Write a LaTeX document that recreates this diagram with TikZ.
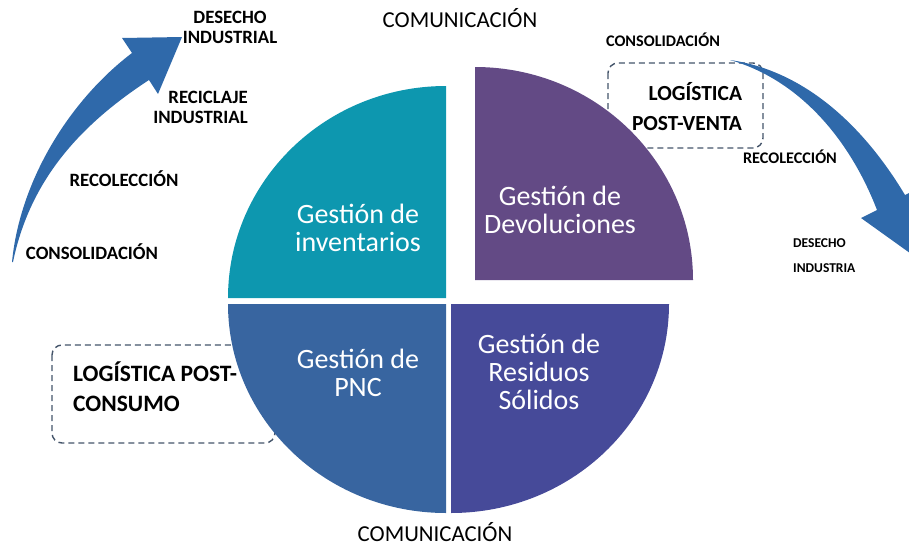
\documentclass[tikz,border=0pt]{standalone}
\usepackage{fontspec}
\setmainfont{Carlito}
\usepackage{xcolor}
\definecolor{ColBlack}{RGB}{0,0,0}
\definecolor{ColTeal}{RGB}{13,151,175}
\definecolor{ColPurple}{RGB}{99,74,133}
\definecolor{ColBlue}{RGB}{56,101,160}
\definecolor{ColIndigo}{RGB}{70,74,153}
\definecolor{ColArrow}{RGB}{47,105,170}
\definecolor{ColSlate}{RGB}{68,84,106}
\usepackage{tikz}
\tikzstyle{Area}=[white,align=center,inner sep=0pt,
    font=\fontsize{28}{28}\selectfont]
\tikzstyle{Stage}=[ColBlack!100,align=center,inner sep=0pt,
    font=\bfseries\fontsize{18.8}{20}\selectfont]
\tikzstyle{SmallStage}=[ColBlack!100,inner sep=0pt,
    font=\bfseries\fontsize{16.2}{18}\selectfont]
\tikzstyle{BoxText}=[ColBlack!100,inner sep=0pt,
    font=\bfseries\fontsize{21.5}{30}\selectfont]
\tikzstyle{Comm}=[ColBlack!100,inner sep=0pt,
    font=\fontsize{22.8}{24}\selectfont]
\tikzstyle{DashBox}=[ColSlate,draw,line width=1.4pt,
    dash pattern=on 6pt off 4pt,rounded corners=10pt]
\tikzstyle{Flow}=[ColArrow,fill]

\begin{document}
\begin{tikzpicture}[x=1pt,y=-1pt]
        \useasboundingbox(0,0)rectangle(909,546);
        \clip(0,0)rectangle(909,546);
        % dashed frames
        \draw[DashBox](608,63)rectangle(763,148);
        \draw[DashBox](52,345)rectangle(275,443);
        % curved arrows
        \fill[Flow](12,262)..controls(20,180)and(70,100)..(132,53)
            --(122,38)--(182,37)--(158,94)--(149,80)
            ..controls(80,125)and(30,180)..(13,262)--cycle;
        \fill[Flow](730,60)..controls(800,70)and(860,120)..(905,195)
            --(921,187)--(928,266)--(861,218)--(877,210)
            ..controls(850,140)and(800,80)..(730,60)--cycle;
        % quadrants
        \fill[ColTeal](446,298)--(228,298)
            arc[start angle=180,end angle=270,x radius=218,y radius=212]--cycle;
        \fill[ColPurple](475,280)--(475,67)
            arc[start angle=270,end angle=360,x radius=218,y radius=213]--cycle;
        \fill[ColBlue](446,304)--(446,513)
            arc[start angle=90,end angle=180,x radius=218,y radius=209]--cycle;
        \fill[ColIndigo](451,304)--(669,304)
            arc[start angle=0,end angle=90,x radius=218,y radius=209]--cycle;
        \node[Area](GI)at(358,228){Gestión de\\inventarios};
        \node[Area](GD)at(560,210){Gestión de\\Devoluciones};
        \node[Area](GP)at(358,373){Gestión de\\PNC};
        \node[Area](GR)at(539,372){Gestión de\\Residuos\\Sólidos};
        \node[Comm](CT)at(460,18){COMUNICACIÓN};
        \node[Comm](CB)at(435,532){COMUNICACIÓN};
        % left chain
        \node[Stage](LD)at(230,27){DESECHO\\INDUSTRIAL};
        \node[Stage,align=right,anchor=east](LR)at(248,107){RECICLAJE\\INDUSTRIAL};
        \node[Stage](LC)at(124,179){RECOLECCIÓN};
        \node[Stage](LO)at(92,252){CONSOLIDACIÓN};
        \node[BoxText,align=left,anchor=west,font=\bfseries\fontsize{23.5}{30}\selectfont]
            (PC)at(73,387){LOGÍSTICA POST-\\CONSUMO};
        % right chain
        \node[SmallStage](RO)at(663,40){CONSOLIDACIÓN};
        \node[BoxText,align=right](PV)at(687,107){LOGÍSTICA\\POST-VENTA};
        \node[SmallStage](RC)at(790,157){RECOLECCIÓN};
        \node[SmallStage,align=left,anchor=west,font=\bfseries\fontsize{13.5}{25}\selectfont]
            (RD)at(793,256){DESECHO\\INDUSTRIA};
    \end{tikzpicture}
\end{document}
